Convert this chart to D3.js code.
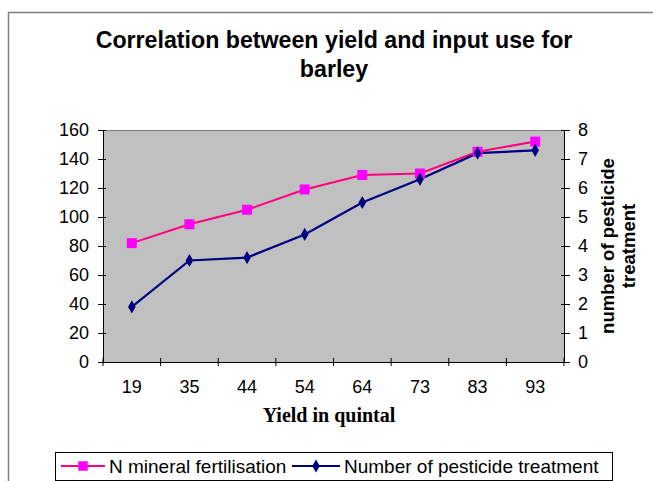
<!DOCTYPE html>
<html><head><meta charset="utf-8">
<script src="https://cdn.jsdelivr.net/npm/d3@7"></script>
<style>html,body{margin:0;padding:0;background:#fff;overflow:hidden}</style>
</head><body>
<script>
const categories = ["19","35","44","54","64","73","83","93"];
const nFertilisation = [82,95,105,119,129,130,145,152];
const pesticideTreatments = [1.9,3.5,3.6,4.4,5.5,6.3,7.2,7.3];
const leftTicks = [0,20,40,60,80,100,120,140,160];
const rightTicks = [0,1,2,3,4,5,6,7,8];

const W=653,H=481;
const svg=d3.select("body").append("svg").attr("width",W).attr("height",H)
  .style("font-family","Liberation Sans, Arial, sans-serif");

svg.append("rect").attr("x",8.5).attr("y",12.5).attr("width",700).attr("height",500)
  .attr("fill","#fff").attr("stroke","#808080").attr("stroke-width",1.5);

const L=103,R=564,T=130,B=362;
const x=d3.scaleBand().domain(categories).range([L,R]);
const yL=d3.scaleLinear().domain([0,160]).range([B,T]);
const yR=d3.scaleLinear().domain([0,8]).range([B,T]);

svg.append("rect").attr("x",L).attr("y",T).attr("width",R-L).attr("height",B-T)
  .attr("fill","#c0c0c0");
svg.append("line").attr("x1",L).attr("x2",R).attr("y1",T+0.5).attr("y2",T+0.5).attr("stroke","#808080");

// title
const title=svg.append("text").attr("text-anchor","middle").attr("font-weight","bold")
  .attr("font-size",23.2).attr("fill","#000");
title.append("tspan").attr("x",334).attr("y",48).text("Correlation between yield and input use for");
title.append("tspan").attr("x",334).attr("y",77).text("barley");

// left axis
const gl=svg.append("g").attr("transform",`translate(${L},0)`)
  .call(d3.axisLeft(yL).tickValues(leftTicks).tickSizeInner(4).tickSizeOuter(0).tickPadding(10));
gl.selectAll(".tick line").attr("x2",-5).attr("x1",3);
// right axis
const gr=svg.append("g").attr("transform",`translate(${R},0)`)
  .call(d3.axisRight(yR).tickValues(rightTicks).tickSizeInner(6).tickSizeOuter(0).tickPadding(8));
gr.selectAll(".tick line").attr("x1",-3);
// bottom axis
const gb=svg.append("g").attr("transform",`translate(0,${B})`)
  .call(d3.axisBottom(x).tickSize(0).tickPadding(18));
const bounds=[...categories.map(c=>x(c)), R];
gb.selectAll(".bt").data(bounds).enter().append("line").attr("class","bt")
  .attr("x1",d=>d).attr("x2",d=>d).attr("y1",-4).attr("y2",4).attr("stroke","#000");
[gl,gr,gb].forEach(g=>{
  g.selectAll("text").attr("font-size",18).attr("font-family","Liberation Sans, Arial, sans-serif").attr("fill","#000");
  g.select(".domain").attr("stroke","#000");
  g.selectAll(".tick line").attr("stroke","#000");
});
gb.selectAll(".tick text").attr("dy","0.71em");

// x title
svg.append("text").attr("x",329).attr("y",422).attr("text-anchor","middle")
  .attr("font-family","Liberation Serif, Times New Roman, serif").attr("font-weight","bold")
  .attr("font-size",20).text("Yield in quintal");
// right title
const rt=svg.append("text").attr("transform","translate(617,246) rotate(-90)")
  .attr("text-anchor","middle").attr("font-weight","bold").attr("font-size",18.5);
rt.append("tspan").attr("x",0).attr("y",-3).text("number of pesticide");
rt.append("tspan").attr("x",0).attr("y",18).text("treatment");

const cx=c=>x(c)+x.bandwidth()/2;
// lines
const lineN=d3.line().x((d,i)=>cx(categories[i])).y(d=>yL(d));
const lineP=d3.line().x((d,i)=>cx(categories[i])).y(d=>yR(d));
svg.append("path").attr("d",lineN(nFertilisation)).attr("fill","none").attr("stroke","#ff0080").attr("stroke-width",2);
svg.append("path").attr("d",lineP(pesticideTreatments)).attr("fill","none").attr("stroke","#000080").attr("stroke-width",2.2);
const sq=d3.symbol().type(d3.symbolSquare).size(100);
const dm=d3.symbol().type(d3.symbolDiamond).size(50);
svg.selectAll(".mN").data(nFertilisation).enter().append("path")
  .attr("d",sq).attr("transform",(d,i)=>`translate(${cx(categories[i])},${yL(d)})`).attr("fill","#ff00ff");
svg.selectAll(".mP").data(pesticideTreatments).enter().append("path")
  .attr("d",dm).attr("transform",(d,i)=>`translate(${cx(categories[i])},${yR(d)})`).attr("fill","#000080");

// legend
svg.append("rect").attr("x",55.5).attr("y",452.5).attr("width",557).attr("height",28)
  .attr("fill","#fff").attr("stroke","#000");
const ly=466;
svg.append("line").attr("x1",61).attr("x2",105).attr("y1",ly).attr("y2",ly).attr("stroke","#ff0080").attr("stroke-width",2);
svg.append("path").attr("d",d3.symbol().type(d3.symbolSquare).size(90)).attr("transform",`translate(83,${ly})`).attr("fill","#ff00ff");
svg.append("text").attr("x",109).attr("y",ly+7).attr("font-size",19).text("N mineral fertilisation");
svg.append("line").attr("x1",292).attr("x2",340).attr("y1",ly).attr("y2",ly).attr("stroke","#000080").attr("stroke-width",2);
svg.append("path").attr("d",d3.symbol().type(d3.symbolDiamond).size(50)).attr("transform",`translate(316,${ly})`).attr("fill","#000080");
svg.append("text").attr("x",344).attr("y",ly+7).attr("font-size",19).text("Number of pesticide treatment");
</script>
</body></html>
